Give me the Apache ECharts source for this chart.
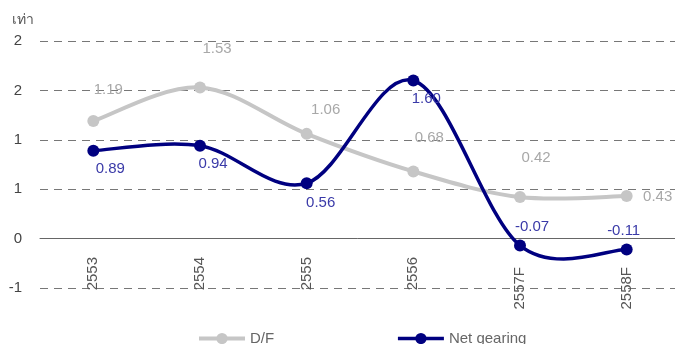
<!DOCTYPE html>
<html><head><meta charset="utf-8">
<script src="https://cdn.jsdelivr.net/npm/echarts@6/dist/echarts.min.js"></script>
<style>html,body{margin:0;padding:0;background:#fff}#c{width:675px;height:344px}</style>
</head><body><div id="c"></div>
<script>
const categories = ['2553','2554','2555','2556','2557F','2558F'];
const dfValues = [1.19, 1.53, 1.06, 0.68, 0.42, 0.43];
const netGearingValues = [0.89, 0.94, 0.56, 1.60, -0.07, -0.11];
const seriesNames = ['D/F', 'Net gearing'];
const unitLabel = 'เท่า';

// label offsets (styling only)
const dfLabelOffsets = [[15,-31],[17,-39],[19,-24],[16,-34],[16,-39],[31,1]];
const ngLabelOffsets = [[17,18],[13,18],[14,20],[13,18],[12,-19],[-3,-19]];

const DF_COLOR = '#c6c6c6', NG_COLOR = '#000080';
const FONT = '"Liberation Sans", Arial, "DejaVu Sans", sans-serif';
function mk(vals, offs){
  return vals.map((v,i)=>({value:v, label:{offset:offs[i]}}));
}
// Excel-like (Catmull-Rom) smoothed path through points mapped by the axes
function smoothRender(vals, color, width){
  return function(params, api){
    if (params.dataIndex !== 0) return;
    const pts = vals.map((v,i)=>api.coord([i, v]));
    let d = 'M' + pts[0][0] + ',' + pts[0][1];
    for (let i=0;i<pts.length-1;i++){
      const p0 = pts[i-1]||pts[i], p1 = pts[i], p2 = pts[i+1], p3 = pts[i+2]||pts[i+1];
      const c1 = [p1[0]+(p2[0]-p0[0])/6, p1[1]+(p2[1]-p0[1])/6];
      const c2 = [p2[0]-(p3[0]-p1[0])/6, p2[1]-(p3[1]-p1[1])/6];
      d += ' C' + c1[0]+','+c1[1]+' '+c2[0]+','+c2[1]+' '+p2[0]+','+p2[1];
    }
    return {type:'path', shape:{pathData:d}, style:{fill:'none', stroke:color, lineWidth:width, lineJoin:'round'}};
  };
}
const chart = echarts.init(document.getElementById('c'));
chart.setOption({
  animation:false,
  textStyle:{fontFamily:FONT},
  title:{text:unitLabel, left:7, top:8, textStyle:{fontSize:14, fontWeight:'normal', color:'#555', fontFamily:FONT}},
  grid:{left:40, width:640, top:41, height:247, containLabel:false, outerBoundsMode:'none'},
  legend:{left:192, top:326, itemGap:122, itemWidth:46, itemHeight:14,
    textStyle:{fontSize:15, color:'#666', fontFamily:FONT},
    data:[
      {name:seriesNames[0], lineStyle:{color:DF_COLOR, width:4, opacity:1}},
      {name:seriesNames[1], lineStyle:{color:NG_COLOR, width:3.5, opacity:1}}
    ]},
  xAxis:{type:'category', data:categories, boundaryGap:true,
    axisLine:{onZero:true, lineStyle:{color:'#666', width:1}},
    axisTick:{show:false},
    axisLabel:{rotate:90, margin:-31, fontSize:15, color:'#555', fontFamily:FONT,
      formatter:v=> /F$/.test(v) ? '{f|'+v+'}' : '{n|'+v+'}',
      rich:{
        n:{fontSize:15, color:'#555', fontFamily:FONT},
        f:{fontSize:15, color:'#555', fontFamily:FONT, padding:[0,10,0,0]}
      }}},
  yAxis:{type:'value', min:-0.5, max:2.0, interval:0.5,
    axisLine:{show:false}, axisTick:{show:false},
    axisLabel:{fontSize:15, color:'#444', margin:18, fontFamily:FONT, formatter:v=>v.toFixed(0)},
    splitLine:{lineStyle:{color:'#777', type:[8,6], width:1}}},
  series:[
    {type:'custom', silent:true, z:1, data:[[0,0]], renderItem:smoothRender(dfValues, DF_COLOR, 4)},
    {type:'custom', silent:true, z:2, data:[[0,0]], renderItem:smoothRender(netGearingValues, NG_COLOR, 3.5)},
    {name:seriesNames[0], type:'line', data:mk(dfValues, dfLabelOffsets),
      symbol:'circle', symbolSize:12, z:3,
      itemStyle:{color:DF_COLOR}, lineStyle:{color:DF_COLOR, width:4, opacity:0},
      label:{show:true, position:'inside', fontSize:15, color:'#a8a8a8', fontFamily:FONT,
        formatter:p=>p.value.toFixed(2)}},
    {name:seriesNames[1], type:'line', data:mk(netGearingValues, ngLabelOffsets),
      symbol:'circle', symbolSize:12, z:4,
      itemStyle:{color:NG_COLOR}, lineStyle:{color:NG_COLOR, width:3.5, opacity:0},
      label:{show:true, position:'inside', fontSize:15, color:'#3a3aa8', fontFamily:FONT,
        formatter:p=>p.value.toFixed(2)}}
  ]
});
</script></body></html>
